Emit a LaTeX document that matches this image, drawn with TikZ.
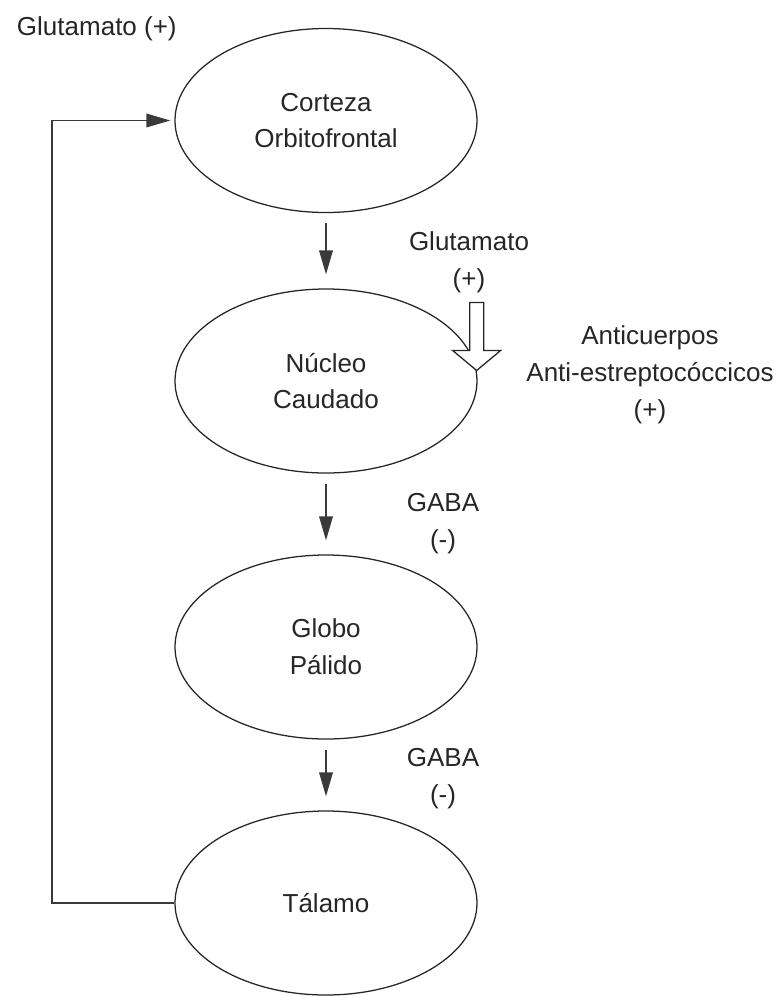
\documentclass[tikz,border=0pt]{standalone}
\usepackage{fontspec}
\setmainfont{Liberation Sans}
\usetikzlibrary{arrows.meta,shapes.geometric}
\definecolor{tinta}{HTML}{262626}
\definecolor{flecha}{HTML}{3A3A3A}

\begin{document}
\begin{tikzpicture}[
    font=\fontsize{18.5pt}{26.2pt}\selectfont, text=tinta,
    region/.style={draw=tinta, ellipse, line width=0.9pt, minimum width=7.55cm, minimum height=4.6cm, inner sep=0pt, align=center},
    flow/.style={draw=flecha, line width=1.1pt, -{Triangle[length=0.6cm,width=0.34cm]}},
    lbl/.style={align=center}]
\useasboundingbox[fill=white] (0,0) rectangle (19.45,-24.9);
% circuito
\node[region] (cort) at (8.15,-3.0125) {Corteza\\Orbitofrontal};
\node[region] (nuc) at (8.15,-9.525) {N\'ucleo\\Caudado};
\node[region] (glob) at (8.15,-16.175) {Globo\\P\'alido};
\node[region] (tal) at (8.15,-22.575) {T\'alamo};
\draw[flow, shorten <=0.25cm, shorten >=0.35cm] (cort) -- (nuc);
\draw[flow, shorten <=0.25cm, shorten >=0.35cm] (nuc) -- (glob);
\draw[flow, shorten <=0.25cm, shorten >=0.35cm] (glob) -- (tal);
% vuelta del talamo a la corteza
\coordinate (vuelta) at (1.3,0);
\draw[flow, shorten >=0.1cm] (tal.west) -- (tal.west -| vuelta) |- (cort.west);
% flecha abierta
\coordinate (gtip) at (nuc.4);
\draw[draw=tinta, fill=white, line width=0.9pt] (gtip) -- ++(-0.6,0.5) -- ++(0.425,0) -- ++(0,1.2)
    -- ++(0.35,0) -- ++(0,-1.2) -- ++(0.425,0) -- cycle;
% etiquetas
\node[anchor=base west] (gluttop) at (0.3,-0.875) {Glutamato (+)};
\node[lbl] (glutnuc) at (11.725,-6.55) {Glutamato\\(+)};
\node[lbl] (anti) at (16.25,-9.375) {Anticuerpos\\Anti-estreptoc\'occicos\\(+)};
\node[lbl] (gaba1) at (11.075,-13.1) {GABA\\(-)};
\node[lbl] (gaba2) at (11.075,-19.475) {GABA\\(-)};
\end{tikzpicture}
\end{document}
